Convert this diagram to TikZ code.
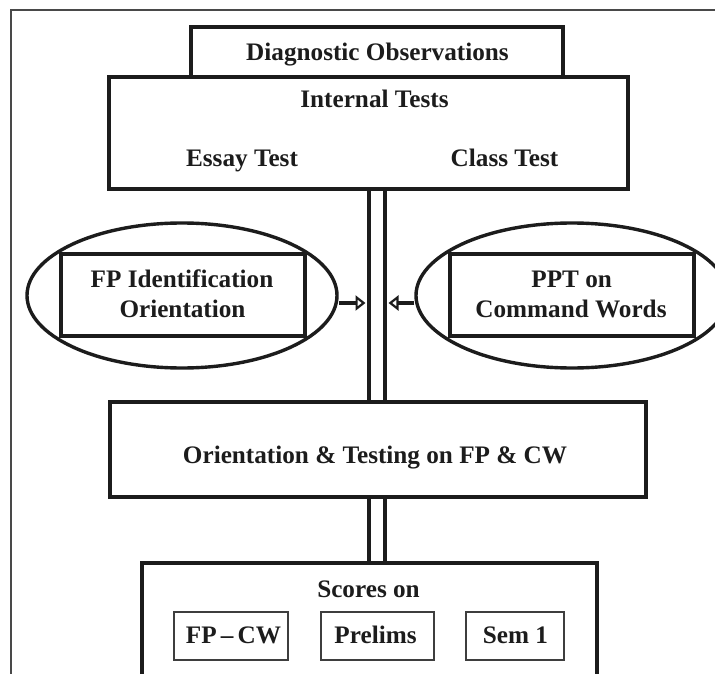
\documentclass[tikz,border=0pt]{standalone}
\usepackage{fontspec}
\setmainfont{Liberation Serif}
\usetikzlibrary{arrows.meta,shapes.geometric}
\definecolor{ink}{HTML}{1C1C1C}
\tikzset{
  box/.style={draw=ink, line width=3.8pt, rectangle, inner sep=0pt},
  thinbox/.style={draw=ink!85, line width=1.3pt, rectangle, inner sep=0pt},
  oval/.style={draw=ink, line width=3.4pt, ellipse, inner sep=0pt},
  txt/.style={text=ink, font=\fontsize{25.2}{30}\selectfont\bfseries, inner sep=0pt, anchor=base},
  pillar/.style={draw=ink, line width=3.8pt},
  feed/.style={draw=ink, line width=3.6pt,
    -{Triangle[open, length=10pt, width=15pt, line width=2.2pt, fill=white]}},
}
\begin{document}
\begin{tikzpicture}[x=1pt,y=-1pt]
\useasboundingbox (0,0) rectangle (715,674);
\clip (0,0) rectangle (715,674);
\fill[white] (0,0) rectangle (715,674);

% outer frame (open at the right and bottom)
\draw[draw=ink!80, line width=1.3pt] (11,690) -- (11,10) -- (730,10);

% top blocks
\node[box, minimum width=519pt, minimum height=112pt] (internal) at (368.5,133) {};
\node[box, minimum width=372pt, minimum height=50pt] (diag) at (377,52) {};
\node[txt] (tdiag) at (377.5,61) {Diagnostic Observations};
\node[txt] (tint) at (374.5,108) {Internal Tests};
\node[txt] (tessay) at (242,167) {Essay Test};
\node[txt] (tclass) at (504.5,167) {Class Test};

% middle block
\node[box, minimum width=536pt, minimum height=95pt] (orient) at (378,449.5) {};
\node[txt] (torient) at (375,463) {Orientation \& Testing on FP \& CW};

% bottom block
\node[box, minimum width=455pt, minimum height=136pt] (scores) at (369.5,631) {};
\node[txt] (tscores) at (368.5,597) {Scores on};
\node[thinbox, minimum width=114pt, minimum height=48pt] (bfp) at (231,636) {};
\node[thinbox, minimum width=113pt, minimum height=48pt] (bpre) at (377.5,636) {};
\node[thinbox, minimum width=98pt, minimum height=48pt] (bsem) at (515,636) {};
\node[txt] (tfp) at (233.5,643) {FP\,–\,CW};
\node[txt] (tpre) at (375.5,643) {Prelims};
\node[txt] (tsem) at (515.5,643) {Sem 1};

% double spine
\coordinate (sL) at (369,0);
\coordinate (sR) at (385,0);
\draw[pillar] (internal.south -| sL) -- (orient.north -| sL);
\draw[pillar] (internal.south -| sR) -- (orient.north -| sR);
\draw[pillar] (orient.south -| sL) -- (scores.north -| sL);
\draw[pillar] (orient.south -| sR) -- (scores.north -| sR);

% side inputs
\node[oval, minimum width=310pt, minimum height=145pt] (lell) at (182,295.5) {};
\node[box, minimum width=244pt, minimum height=82pt] (lrect) at (183,295) {};
\node[txt] (l1) at (182,287) {FP Identification};
\node[txt] (l2) at (182.5,317) {Orientation};

\node[oval, minimum width=312pt, minimum height=145pt] (rell) at (572,295.5) {};
\node[box, minimum width=244pt, minimum height=82pt] (rrect) at (572,295) {};
\node[txt] (r1) at (571.7,287) {PPT on};
\node[txt] (r2) at (571,317) {Command Words};

\coordinate (lin) at (365.5,303);
\coordinate (rin) at (388.5,303);
\draw[feed] (lell.east |- lin) -- (lin);
\draw[feed] (rell.west |- rin) -- (rin);
\end{tikzpicture}
\end{document}
